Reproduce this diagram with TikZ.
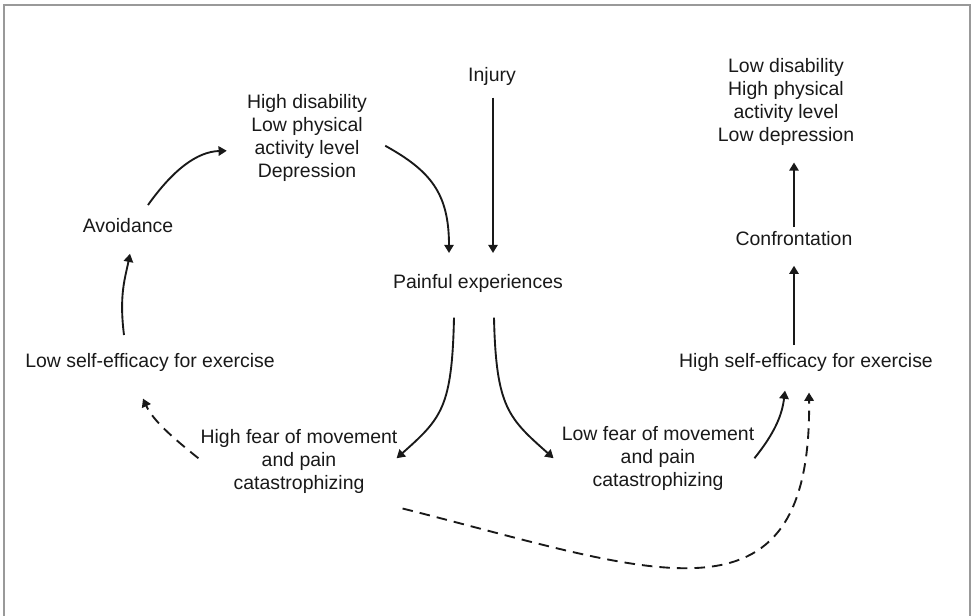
\documentclass[tikz,border=0pt]{standalone}
\usepackage{fontspec}
\setmainfont{Liberation Sans}
\usetikzlibrary{arrows.meta,calc}
\begin{document}
\begin{tikzpicture}[x=0.03cm, y=-0.03cm,
    lbl/.style={inner sep=0pt, anchor=north, align=center, text=black!90,
        font={\fontsize{16.6pt}{19.6pt}\selectfont}},
    arr/.style={line width=1.6pt, black!90, -{Triangle[length=7pt,width=8pt]}},
    dsh/.style={dash pattern=on 9pt off 6pt},
    frame/.style={line width=1.6pt, black!40}]
        \useasboundingbox (0,0) rectangle (971,616);
        \draw[frame] (4,616) -- (4,5) -- (970,5) -- (970,616);
        \node[lbl] (injury) at (492,67) {Injury};
        \node[lbl] (hidis) at (307,94) {High disability\\Low physical\\activity level\\Depression};
        \node[lbl] (lodis) at (786,58) {Low disability\\High physical\\activity level\\Low depression};
        \node[lbl] (avoid) at (128,218) {Avoidance};
        \node[lbl] (confront) at (794,231) {Confrontation};
        \node[lbl] (painful) at (478,274) {Painful experiences};
        \node[lbl] (lowse) at (150,353) {Low self-efficacy for exercise};
        \node[lbl] (highse) at (806,353) {High self-efficacy for exercise};
        \node[lbl] (hifear) at (299,429) {High fear of movement\\and pain\\catastrophizing};
        \node[lbl] (lofear) at (658,426) {Low fear of movement\\and pain\\catastrophizing};
        \draw[arr] ($(injury.south)+(1,12)$) -- ($(injury.south |- painful.north)+(1,-21)$);
        \draw[arr] ($(hidis.east)+(18,8)$) .. controls +(45,25) and +(0,-60) .. ($(painful.north)+(-29,-21)$);
        \draw[arr] ($(painful.south)+(-24,25)$) .. controls +(-2,90) and +(45,-40) .. ($(hifear.east)+(-1,-3)$);
        \draw[arr] ($(painful.south)+(16,25)$) .. controls +(2,90) and +(-45,-40) .. ($(lofear.west)+(-8,0)$);
        \draw[arr] (lofear.east) .. controls +(20,-25) and +(-3,25) .. ($(highse.south)+(-21,19)$);
        \draw[arr] ($(highse.north -| confront.south)+(0,-8)$) -- ($(confront.south)+(0,20)$);
        \draw[arr] ($(confront.north)+(0,-4)$) -- ($(lodis.south -| confront.north)+(0,17)$);
        \draw[arr] ($(lowse.north)+(-26,-18)$) .. controls +(-5,-40) and +(-5,25) .. ($(avoid.south)+(2,21)$);
        \draw[arr] ($(avoid.north)+(20,-13)$) .. controls +(25,-35) and +(-30,1) .. ($(hidis.west)+(-20,13)$);
        \draw[arr,dsh] ($(hifear.west)+(-2,-3)$) .. controls +(-25,-20) and +(10,22) .. ($(lowse.south)+(-7,27)$);
        \draw[arr,dsh] ($(hifear.south east)+(5,15)$) .. controls +(247,62) and +(3,248) .. ($(highse.south)+(3,21)$);
\end{tikzpicture}
\end{document}
